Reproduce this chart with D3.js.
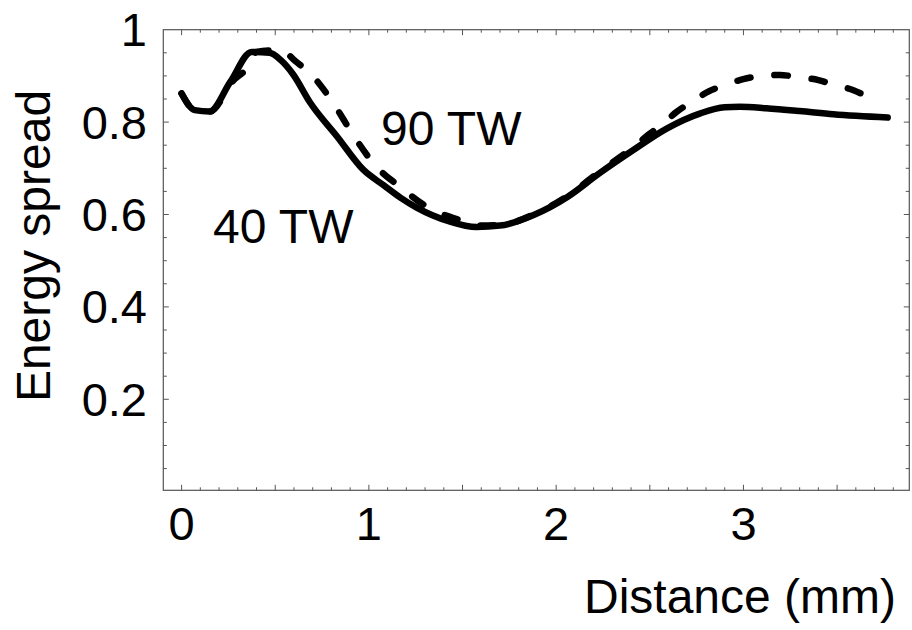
<!DOCTYPE html>
<html>
<head>
<meta charset="utf-8">
<script src="https://cdn.jsdelivr.net/npm/d3@7"></script>
<style>
  html, body { margin: 0; padding: 0; background: #fff; }
  svg { display: block; }
  text { font-family: "Liberation Sans", Arial, Helvetica, sans-serif; fill: #000; }
</style>
</head>
<body>
<svg id="chart" width="912" height="630"></svg>
<script>
// Energy spread along the propagation distance for two laser powers
const distance40 = [0, 0.07, 0.15, 0.26, 0.374, 0.47, 0.53, 0.596, 0.685, 0.83, 0.97, 1.08, 1.17, 1.255, 1.43, 1.575, 1.70, 1.88, 2.06, 2.23, 2.41, 2.59, 2.77, 2.90, 2.98, 3.12, 3.30, 3.48, 3.77];
const spread40   = [0.862, 0.826, 0.823, 0.887, 0.952, 0.950, 0.934, 0.903, 0.843, 0.769, 0.697, 0.663, 0.636, 0.615, 0.585, 0.573, 0.576, 0.599, 0.638, 0.689, 0.739, 0.786, 0.819, 0.832, 0.833, 0.830, 0.824, 0.817, 0.810];

const distance90 = [0, 0.07, 0.15, 0.276, 0.356, 0.40, 0.53, 0.61, 0.685, 0.81, 0.916, 1.041, 1.166, 1.308, 1.486, 1.60, 1.70, 1.88, 2.06, 2.23, 2.41, 2.50, 2.563, 2.643, 2.724, 2.812, 2.901, 2.999, 3.097, 3.195, 3.293, 3.40, 3.489, 3.587, 3.68];
const spread90   = [0.862, 0.826, 0.823, 0.890, 0.920, 0.952, 0.956, 0.931, 0.906, 0.841, 0.772, 0.703, 0.660, 0.617, 0.588, 0.576, 0.577, 0.600, 0.640, 0.692, 0.745, 0.775, 0.794, 0.822, 0.844, 0.866, 0.880, 0.893, 0.900, 0.902, 0.897, 0.891, 0.880, 0.869, 0.851];

const xTickLabels = [0, 1, 2, 3];
const yTickLabels = [0.2, 0.4, 0.6, 0.8, 1];
const seriesLabels = ["40 TW", "90 TW"];

const svg = d3.select("#chart");

const frame = { left: 163.3, right: 909.3, top: 29.7, bottom: 490.3 };
const x = d3.scaleLinear().domain([-0.0977, 3.8855]).range([frame.left, frame.right]);
const y = d3.scaleLinear().domain([0.003, 1]).range([frame.bottom, frame.top]);

const frameColor = "#555";

// plot frame
svg.append("rect")
  .attr("x", frame.left).attr("y", frame.top)
  .attr("width", frame.right - frame.left).attr("height", frame.bottom - frame.top)
  .attr("fill", "none").attr("stroke", frameColor).attr("stroke-width", 1.2);

// tick marks on all four sides, pointing inward
const xTicks = d3.range(0, 39).map(i => i / 10);
const yTicks = d3.range(1, 20).map(i => i / 20);
const isMajorX = v => Math.abs(v * 2 - Math.round(v * 2)) < 1e-6;
const isMajorY = v => Math.abs(v * 5 - Math.round(v * 5)) < 1e-6;

const tickG = svg.append("g").attr("stroke", frameColor).attr("stroke-width", 1);
xTicks.forEach(v => {
  const len = isMajorX(v) ? 5.5 : 3;
  const px = x(v);
  tickG.append("line").attr("x1", px).attr("x2", px).attr("y1", frame.bottom).attr("y2", frame.bottom - len);
  tickG.append("line").attr("x1", px).attr("x2", px).attr("y1", frame.top).attr("y2", frame.top + len);
});
yTicks.forEach(v => {
  const len = isMajorY(v) ? 5.5 : 3.5;
  const py = y(v);
  tickG.append("line").attr("y1", py).attr("y2", py).attr("x1", frame.left).attr("x2", frame.left + len);
  tickG.append("line").attr("y1", py).attr("y2", py).attr("x1", frame.right).attr("x2", frame.right - len);
});

// tick labels
svg.append("g").selectAll("text").data(xTickLabels).join("text")
  .attr("x", d => x(d)).attr("y", 540)
  .attr("text-anchor", "middle")
  .style("font-size", "47px")
  .text(d => d);

svg.append("g").selectAll("text").data(yTickLabels).join("text")
  .attr("x", 147).attr("y", d => y(d))
  .attr("dy", "0.35em")
  .attr("text-anchor", "end")
  .style("font-size", "47px")
  .text(d => d);

// axis titles
svg.append("text")
  .attr("x", 896).attr("y", 613)
  .attr("text-anchor", "end")
  .style("font-size", "48px")
  .text("Distance (mm)");

svg.append("text")
  .attr("transform", "translate(50,246) rotate(-90)")
  .attr("text-anchor", "middle")
  .style("font-size", "48px")
  .text("Energy spread");

// curves
const line = d3.line()
  .x(d => x(d[0]))
  .y(d => y(d[1]))
  .curve(d3.curveMonotoneX);

const data40 = distance40.map((d, i) => [d, spread40[i]]);
const data90 = distance90.map((d, i) => [d, spread90[i]]);

svg.append("path")
  .datum(data90)
  .attr("d", line)
  .attr("fill", "none")
  .attr("stroke", "#000")
  .attr("stroke-width", 6.5)
  .attr("stroke-linecap", "round")
  .attr("stroke-linejoin", "round")
  .attr("stroke-dasharray", "13.5,24");

svg.append("path")
  .datum(data40)
  .attr("d", line)
  .attr("fill", "none")
  .attr("stroke", "#000")
  .attr("stroke-width", 6.5)
  .attr("stroke-linecap", "round")
  .attr("stroke-linejoin", "round");

// curve labels
svg.append("text")
  .attr("x", 213).attr("y", 243)
  .style("font-size", "48px")
  .text(seriesLabels[0]);

svg.append("text")
  .attr("x", 381).attr("y", 145)
  .style("font-size", "48px")
  .text(seriesLabels[1]);
</script>
</body>
</html>
